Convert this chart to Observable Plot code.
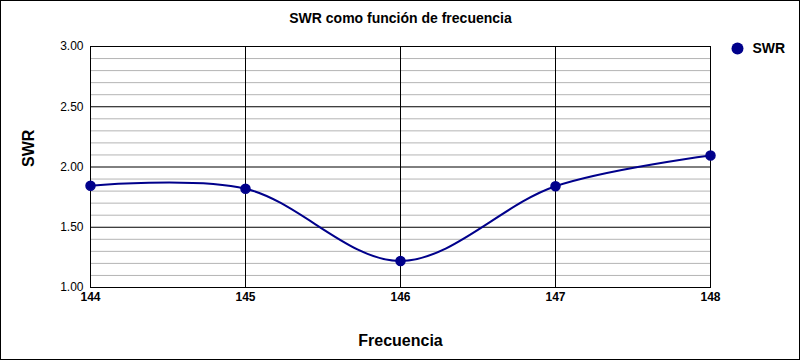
<!DOCTYPE html>
<html><head><meta charset="utf-8">
<script src="https://cdn.jsdelivr.net/npm/d3@7"></script>
<script src="https://cdn.jsdelivr.net/npm/@observablehq/plot@0.6"></script>
<style>
body{margin:0;background:#fff;}
#chart svg{outline:1px solid #000;outline-offset:-1px;display:block;}
</style></head>
<body><div id="chart"></div>
<script>
const freqs = [144, 145, 146, 147, 148];
const swr = [1.845, 1.82, 1.22, 1.84, 2.095];
const yMajor = [1.0, 1.5, 2.0, 2.5, 3.0];
const yMinor = [1.1, 1.2, 1.3, 1.4, 1.6, 1.7, 1.8, 1.9, 2.1, 2.2, 2.3, 2.4, 2.6, 2.7, 2.8, 2.9];
const title = "SWR como función de frecuencia";
const xLabel = "Frecuencia";
const yLabel = "SWR";
const seriesName = "SWR";
const color = "#00008b";

const data = freqs.map((f, i) => ({f, v: swr[i]}));
const font = "Liberation Sans, Arial, sans-serif";

const plot = Plot.plot({
  width: 800, height: 360,
  marginLeft: 90, marginRight: 90, marginTop: 46, marginBottom: 73,
  style: {fontFamily: font, background: "#fff"},
  x: {domain: [144, 148], ticks: freqs, tickFormat: d => d, tickSize: 0, tickPadding: 4, label: null},
  y: {domain: [1, 3], ticks: yMajor, tickFormat: d => d.toFixed(2), tickSize: 0, tickPadding: 7, label: null},
  marks: [
    Plot.ruleY(yMinor, {stroke: "#b4b4b4", strokeWidth: 1}),
    Plot.ruleY(yMajor, {stroke: "#000", strokeWidth: 1}),
    Plot.ruleX(freqs, {stroke: "#000", strokeWidth: 1}),
    Plot.frame({stroke: "#000"}),
    Plot.axisX({ticks: freqs, tickFormat: d => d, tickSize: 0, tickPadding: 5, fontSize: 12, fontWeight: "bold", fill: "#000", label: null}),
    Plot.axisY({ticks: yMajor, tickFormat: d => d.toFixed(2), tickSize: 0, tickPadding: 7, fontSize: 12, fill: "#000", label: null}),
    Plot.line(data, {x: "f", y: "v", stroke: color, strokeWidth: 2, curve: "catmull-rom"}),
    Plot.dot(data, {x: "f", y: "v", r: 4.5, fill: color, stroke: color}),
    Plot.text([title], {frameAnchor: "top", lineAnchor: "middle", dy: -28, fontSize: 14, fontWeight: "bold", fill: "#000"}),
    Plot.text([xLabel], {frameAnchor: "bottom", lineAnchor: "middle", dy: 53, fontSize: 16, fontWeight: "bold", fill: "#000"}),
    Plot.text([yLabel], {frameAnchor: "left", dx: -62, rotate: -90, fontSize: 16, fontWeight: "bold", fill: "#000"}),
    Plot.dot([seriesName], {frameAnchor: "top-right", dx: 27, dy: 2, r: 6, fill: color}),
    Plot.text([seriesName], {frameAnchor: "top-right", lineAnchor: "middle", dx: 42, dy: 2, textAnchor: "start", fontSize: 14, fontWeight: "bold", fill: "#000"})
  ]
});
document.getElementById("chart").appendChild(plot);
</script></body></html>
